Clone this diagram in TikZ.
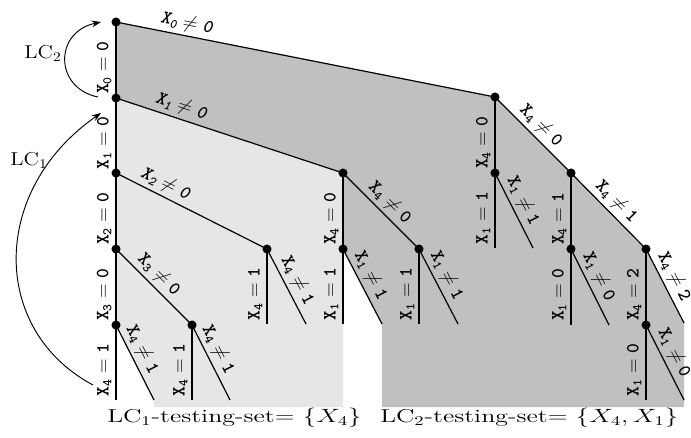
\documentclass[tikz,border=0pt]{standalone}
\usetikzlibrary{arrows.meta}
\definecolor{darkg}{RGB}{192,192,192}
\definecolor{lightg}{RGB}{230,230,230}
\newcommand{\eqlab}[3]{X\textsubscript{#1}${}#2{}$#3}
\begin{document}
\begin{tikzpicture}[x=0.75pt,y=-0.75pt,
  dot/.style={circle,fill=black,inner sep=0pt,minimum size=6.8pt},
  edge/.style={line width=0.9pt},
  vlab/.style={pos=0.6,rotate=90,anchor=south,inner sep=3pt,font=\fontsize{14}{16}\selectfont\ttfamily\bfseries},
  slab/.style={sloped,above,inner sep=2.5pt,font=\fontsize{14}{16}\selectfont\ttfamily\bfseries},
  ilab/.style={slab,font=\fontsize{14}{16}\selectfont\ttfamily\bfseries\itshape},
  arr/.style={line width=0.7pt,-{Stealth[length=7pt,width=5pt]}},
  big/.style={font=\fontsize{14}{16}\selectfont,inner sep=0pt}]
\useasboundingbox (0,0) rectangle (691,437);
% nodes
\coordinate (A) at (116,22);
\coordinate (B) at (116,98);
\coordinate (C) at (116,173);
\coordinate (D) at (116,249);
\coordinate (E) at (116,325);
\coordinate (F) at (495,97);
\coordinate (G) at (343,173);
\coordinate (H) at (267,249);
\coordinate (I) at (192,325);
\coordinate (J) at (343,249);
\coordinate (K) at (419,249);
\coordinate (L) at (495,173);
\coordinate (M) at (571,173);
\coordinate (N) at (571,249);
\coordinate (O) at (646,249);
\coordinate (P) at (646,325);
% leaves
\coordinate (E1) at (116,400); \coordinate (E2) at (154,400);
\coordinate (I1) at (192,400); \coordinate (I2) at (230,400);
\coordinate (H1) at (267,324); \coordinate (H2) at (306,324);
\coordinate (J1) at (343,324); \coordinate (J2) at (382,324);
\coordinate (K1) at (419,324); \coordinate (K2) at (458,324);
\coordinate (L1) at (495,248); \coordinate (L2) at (533,248);
\coordinate (N1) at (571,325); \coordinate (N2) at (609,325);
\coordinate (O2) at (684,323);
\coordinate (P1) at (646,400); \coordinate (P2) at (684,400);
% shaded regions
\fill[darkg] (A) -- (F) -- (M) -- (O) -- (O2) -- (684,407) -- (382,407) -- (J2) -- (J) -- (G) -- (B) -- cycle;
\fill[lightg] (B) -- (G) -- (343,407) -- (154,407) -- (E2) -- (E) -- cycle;
% edges
\draw[edge] (A) -- node[ilab,pos=.18] {\eqlab{0}{\neq}{0}} (F);
\draw[edge] (A) -- node[vlab] {\eqlab{0}{=}{0}} (B);
\draw[edge] (B) -- node[ilab,pos=.27] {\eqlab{1}{\neq}{0}} (G);
\draw[edge] (B) -- node[vlab] {\eqlab{1}{=}{0}} (C);
\draw[edge] (C) -- node[ilab,pos=.29] {\eqlab{2}{\neq}{0}} (H);
\draw[edge] (C) -- node[vlab] {\eqlab{2}{=}{0}} (D);
\draw[edge] (D) -- node[slab,pos=.45] {\eqlab{3}{\neq}{0}} (I);
\draw[edge] (D) -- node[vlab] {\eqlab{3}{=}{0}} (E);
\draw[edge] (E) -- node[vlab] {\eqlab{4}{=}{1}} (E1);
\draw[edge] (E) -- node[slab,pos=.4] {\eqlab{4}{\neq}{1}} (E2);
\draw[edge] (I) -- node[vlab] {\eqlab{4}{=}{1}} (I1);
\draw[edge] (I) -- node[slab,pos=.4] {\eqlab{4}{\neq}{1}} (I2);
\draw[edge] (H) -- node[vlab] {\eqlab{4}{=}{1}} (H1);
\draw[edge] (H) -- node[slab,pos=.5] {\eqlab{4}{\neq}{1}} (H2);
\draw[edge] (G) -- node[vlab] {\eqlab{4}{=}{0}} (J);
\draw[edge] (G) -- node[slab,pos=.5] {\eqlab{4}{\neq}{0}} (K);
\draw[edge] (J) -- node[vlab] {\eqlab{1}{=}{1}} (J1);
\draw[edge] (J) -- node[slab,pos=.43] {\eqlab{1}{\neq}{1}} (J2);
\draw[edge] (K) -- node[vlab] {\eqlab{1}{=}{1}} (K1);
\draw[edge] (K) -- node[slab,pos=.43] {\eqlab{1}{\neq}{1}} (K2);
\draw[edge] (F) -- node[vlab] {\eqlab{4}{=}{0}} (L);
\draw[edge] (F) -- node[slab,pos=.49] {\eqlab{4}{\neq}{0}} (M);
\draw[edge] (L) -- node[vlab] {\eqlab{1}{=}{1}} (L1);
\draw[edge] (L) -- node[slab,pos=.45] {\eqlab{1}{\neq}{1}} (L2);
\draw[edge] (M) -- node[vlab] {\eqlab{4}{=}{1}} (N);
\draw[edge] (M) -- node[slab,pos=.49] {\eqlab{4}{\neq}{1}} (O);
\draw[edge] (N) -- node[vlab] {\eqlab{1}{=}{0}} (N1);
\draw[edge] (N) -- node[slab,pos=.44] {\eqlab{1}{\neq}{0}} (N2);
\draw[edge] (O) -- node[vlab] {\eqlab{4}{=}{2}} (P);
\draw[edge] (O) -- node[slab,pos=.45] {\eqlab{4}{\neq}{2}} (O2);
\draw[edge] (P) -- node[vlab] {\eqlab{1}{=}{0}} (P1);
\draw[edge] (P) -- node[slab,pos=.45] {\eqlab{1}{\neq}{0}} (P2);
% dots
\foreach \n in {A,B,C,D,E,F,G,H,I,J,K,L,M,N,O,P}
  \node[dot] (d\n) at (\n) {};
% LC labels and arrows
\node[big] (lc2) at (43,53) {\scalebox{1.16}[1]{LC$_2$}};
\node[big] (lc1) at (29,160) {\scalebox{1.16}[1]{LC$_1$}};
\coordinate (s2) at (98,97); \coordinate (t2) at (101,22);
\coordinate (s1) at (93,385); \coordinate (t1) at (101,113);
\draw[arr] (s2) .. controls (54,88) and (54,32) .. (t2);
\draw[arr] (s1) .. controls (-10,330) and (-10,190) .. (t1);
% bottom texts
\node[big,anchor=west] (ts1) at (107,418) {\scalebox{1.39}[1]{LC$_1$-testing-set= $\{X_4\}$}};
\node[big,anchor=west] (ts2) at (380,418) {\scalebox{1.39}[1]{LC$_2$-testing-set= $\{X_4,X_1\}$}};
\end{tikzpicture}
\end{document}
